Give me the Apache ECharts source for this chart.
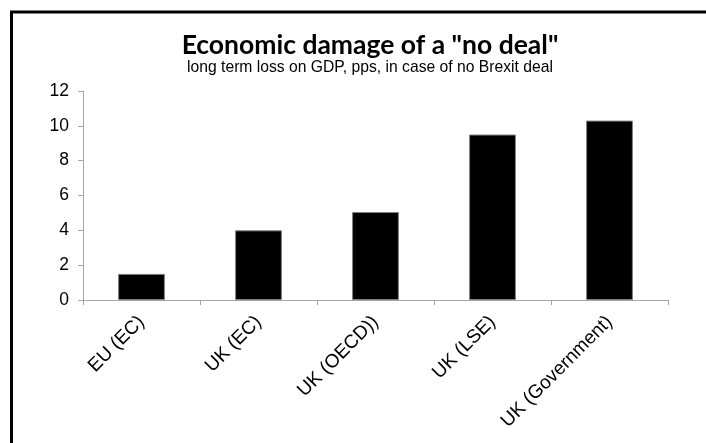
<!DOCTYPE html>
<html>
<head>
<meta charset="utf-8">
<script src="https://cdn.jsdelivr.net/npm/echarts@6/dist/echarts.min.js"></script>
<style>
  html, body { margin: 0; padding: 0; background: #fff; }
  #chart { width: 706px; height: 443px; }
</style>
</head>
<body>
<div id="chart"></div>
<script>
// estimates of long term GDP loss (pps)
const categories = ['EU (EC)', 'UK (EC)', 'UK (OECD))', 'UK (LSE)', 'UK (Government)'];
const lossValues = [1.5, 4, 5.05, 9.5, 10.3];
const yTicks = [0, 2, 4, 6, 8, 10, 12];

const myChart = echarts.init(document.getElementById('chart'), null, {renderer: 'canvas'});

const option = {
    backgroundColor: '#fff',
    animation: false,
    title: {
        text: 'Economic damage of a "no deal"',
        subtext: 'long term loss on GDP, pps, in case of no Brexit deal',
        left: 365,
        top: 27,
        textAlign: 'center',
        itemGap: 1,
        textStyle: {
            fontFamily: 'Lato',
            fontWeight: 'bold',
            fontSize: 26.5,
            color: '#000'
        },
        subtextStyle: {
            fontFamily: 'Liberation Sans',
            fontSize: 15.7,
            color: '#000'
        }
    },
    graphic: [
        {
            // outer frame of the chart area (only top and left edges fall inside the picture)
            type: 'rect',
            shape: {x: 11.5, y: 12, width: 900, height: 700},
            style: {fill: 'none', stroke: '#000', lineWidth: 3},
            silent: true
        }
    ],
    grid: {
        left: 83,
        right: 38,
        top: 91,
        bottom: 143,
        containLabel: false
    },
    xAxis: {
        type: 'category',
        data: categories,
        axisLine: {lineStyle: {color: '#a6a6a6', width: 1}},
        axisTick: {show: true, length: 5, lineStyle: {color: '#a6a6a6'}},
        axisLabel: {
            rotate: 45,
            margin: 19,
            fontFamily: 'Liberation Sans',
            fontSize: 19,
            color: '#000'
        }
    },
    yAxis: {
        type: 'value',
        min: yTicks[0],
        max: yTicks[yTicks.length - 1],
        interval: 2,
        splitLine: {show: false},
        axisLine: {show: true, lineStyle: {color: '#a6a6a6', width: 1}},
        axisTick: {show: true, length: 5, lineStyle: {color: '#a6a6a6'}},
        axisLabel: {
            margin: 14,
            fontFamily: 'Liberation Sans',
            fontSize: 17.5,
            color: '#000'
        }
    },
    series: [
        {
            name: 'Loss',
            type: 'bar',
            data: lossValues,
            barWidth: '40%',
            itemStyle: {
                color: '#000',
                borderColor: '#7f7f7f',
                borderWidth: 1
            }
        }
    ]
};

myChart.setOption(option);
</script>
</body>
</html>
